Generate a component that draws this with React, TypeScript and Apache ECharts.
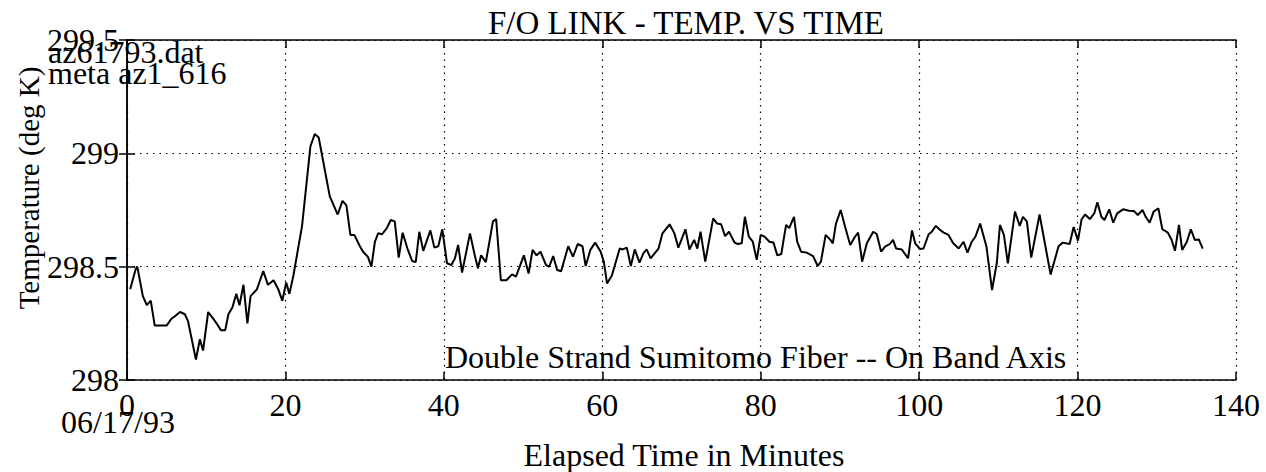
import React, { useEffect, useRef } from "react";
import * as echarts from "echarts";

const minutes = [
  0.4, 1.1, 1.3, 2.0, 2.5, 3.0, 3.5, 5.0, 5.6, 6.0, 6.7, 7.3, 7.7, 8.7, 9.2, 9.6, 10.25, 10.9, 11.3, 11.85,
  12.4, 12.8, 13.3, 13.8, 14.2, 14.7, 15.2, 15.6, 16.4, 16.7, 17.2, 17.8, 18.5, 19.1, 19.6, 20.1, 20.5, 21.0,
  22.1, 23.15, 23.7, 24.2, 25.6, 26.6, 27.2, 27.7, 28.2, 28.7, 29.4, 29.8, 30.4, 30.85, 31.3, 31.7, 32.2,
  32.8, 33.3, 33.8, 34.3, 34.8, 35.4, 36.0, 36.45, 36.9, 37.4, 38.3, 38.8, 39.3, 39.8, 40.4, 40.95, 41.4,
  41.8, 42.3, 43.3, 43.9, 44.3, 44.7, 45.3, 46.2, 46.6, 47.2, 47.9, 48.6, 49.1, 50.1, 50.7, 51.2, 51.7,
  52.2, 52.9, 53.3, 53.8, 54.3, 54.8, 55.7, 56.3, 56.9, 57.5, 57.9, 58.5, 59.1, 59.8, 60.2, 60.6, 61.2,
  62.2, 62.6, 63.1, 63.6, 64.1, 64.7, 65.2, 65.6, 66.1, 67.1, 67.6, 68.5, 69.1, 69.6, 70.5, 71.0, 71.6,
  72.0, 72.4, 73.0, 74.0, 74.5, 75.0, 75.5, 76.0, 76.7, 77.1, 77.6, 78.0, 78.5, 79.0, 79.5, 80.0, 80.5,
  81.1, 81.6, 82.1, 82.6, 83.2, 83.6, 84.2, 84.6, 85.1, 85.8, 86.6, 87.2, 87.6, 88.2, 88.8, 89.1, 89.5,
  90.1, 90.65, 91.3, 91.9, 92.3, 92.8, 93.4, 94.2, 94.65, 95.2, 95.7, 96.3, 96.7, 97.1, 97.8, 98.6, 99.1,
  99.5, 100.1, 100.55, 101.2, 101.6, 102.1, 102.65, 103.1, 103.7, 104.3, 105.0, 105.6, 106.1, 106.65,
  107.1, 107.7, 108.5, 109.2, 109.8, 110.2, 110.7, 111.2, 112.1, 112.7, 113.1, 113.6, 114.15, 115.2,
  115.65, 116.6, 117.6, 118.1, 119.0, 119.5, 120.05, 120.5, 120.95, 121.55, 122.1, 122.5, 123.0, 123.4,
  124.0, 124.5, 125.0, 125.75, 126.5, 127.1, 127.6, 128.2, 128.6, 129.1, 129.6, 130.2, 130.7, 131.4,
  131.85, 132.3, 132.8, 133.2, 133.8, 134.3, 134.8, 135.3, 135.8,
];

const temperatures = [
  298.40, 298.49, 298.50, 298.37, 298.33, 298.35, 298.24, 298.24, 298.27, 298.28, 298.30, 298.29, 298.26,
  298.09, 298.18, 298.13, 298.30, 298.27, 298.25, 298.22, 298.22, 298.29, 298.32, 298.38, 298.33, 298.42,
  298.25, 298.37, 298.40, 298.43, 298.48, 298.42, 298.44, 298.40, 298.35, 298.43, 298.38, 298.46, 298.68,
  299.03, 299.085, 299.07, 298.81, 298.73, 298.79, 298.77, 298.64, 298.64, 298.59, 298.566, 298.544,
  298.50, 298.61, 298.647, 298.643, 298.67, 298.706, 298.70, 298.54, 298.65, 298.58, 298.525, 298.52,
  298.654, 298.57, 298.66, 298.584, 298.59, 298.665, 298.515, 298.507, 298.537, 298.596, 298.474, 298.647,
  298.55, 298.493, 298.55, 298.52, 298.70, 298.71, 298.44, 298.44, 298.466, 298.456, 298.55, 298.47,
  298.574, 298.55, 298.566, 298.507, 298.50, 298.547, 298.485, 298.48, 298.59, 298.544, 298.60, 298.59,
  298.503, 298.574, 298.606, 298.566, 298.52, 298.426, 298.46, 298.58, 298.576, 298.584, 298.503, 298.576,
  298.518, 298.56, 298.576, 298.537, 298.58, 298.647, 298.687, 298.647, 298.584, 298.665, 298.576, 298.618,
  298.58, 298.654, 298.522, 298.713, 298.69, 298.687, 298.635, 298.654, 298.606, 298.60, 298.603, 298.72,
  298.632, 298.61, 298.53, 298.64, 298.632, 298.61, 298.607, 298.55, 298.556, 298.684, 298.67, 298.72,
  298.61, 298.566, 298.562, 298.547, 298.503, 298.522, 298.64, 298.618, 298.603, 298.69, 298.75, 298.676,
  298.596, 298.632, 298.65, 298.522, 298.603, 298.654, 298.644, 298.566, 298.588, 298.60, 298.618, 298.58,
  298.576, 298.537, 298.66, 298.603, 298.578, 298.58, 298.643, 298.654, 298.68, 298.662, 298.65, 298.64,
  298.603, 298.58, 298.61, 298.562, 298.61, 298.632, 298.69, 298.588, 298.397, 298.515, 298.684, 298.64,
  298.515, 298.743, 298.68, 298.72, 298.70, 298.54, 298.73, 298.645, 298.465, 298.59, 298.606, 298.60,
  298.675, 298.615, 298.708, 298.73, 298.71, 298.735, 298.784, 298.72, 298.706, 298.753, 298.694, 298.735,
  298.753, 298.747, 298.746, 298.728, 298.75, 298.72, 298.694, 298.743, 298.757, 298.665, 298.65, 298.62,
  298.57, 298.684, 298.574, 298.61, 298.665, 298.618, 298.62, 298.58,
];

const xTicks = { min: 0, max: 140, interval: 20 };
const yTicks = { min: 298, max: 299.5, interval: 0.5 };

const chartTitle = "F/O LINK - TEMP. VS TIME";
const xName = "Elapsed Time in Minutes";
const yName = "Temperature (deg K)";
const fileLines = ["az61793.dat", "meta az1_616"];
const dateLabel = "06/17/93";
const note = "Double Strand Sumitomo Fiber -- On Band Axis";

const FONT = "'Liberation Serif', 'Times New Roman', serif";

export default function App() {
  const ref = useRef<HTMLDivElement>(null);
  useEffect(() => {
    if (!ref.current) return;
    const chart = echarts.init(ref.current, undefined, { renderer: "svg" });
    const data = minutes.map((m, i) => [m, temperatures[i]]);
    const axisLine = { show: true, lineStyle: { color: "#000", width: 1.5 } };
    const tick = { show: true, inside: true, length: 8, lineStyle: { color: "#000", width: 1.5 } };
    const split = { show: true, lineStyle: { color: "#000", width: 1.2, type: [1.5, 5] as any } };
    const label = { color: "#000", fontFamily: FONT, fontSize: 32 };
    chart.setOption({
      animation: false,
      backgroundColor: "#fff",
      grid: { left: 127, right: 30, top: 40, bottom: 92, containLabel: false },
      xAxis: [
        {
          type: "value", position: "bottom", ...xTicks,
          axisLine, axisTick: tick, splitLine: split,
          axisLabel: { ...label, margin: 9 },
        },
        {
          type: "value", position: "top", ...xTicks,
          axisLine, axisTick: tick, splitLine: { show: false }, axisLabel: { show: false },
        },
      ],
      yAxis: [
        {
          type: "value", position: "left", ...yTicks,
          axisLine, axisTick: tick, splitLine: split,
          axisLabel: { ...label, margin: 8, formatter: (v: number) => String(v) },
        },
        {
          type: "value", position: "right", ...yTicks,
          axisLine, axisTick: tick, splitLine: { show: false }, axisLabel: { show: false },
        },
      ],
      graphic: [
        { type: "text", x: 686, y: 23, style: { text: chartTitle, font: `33px ${FONT}`, fill: "#000", textAlign: "center", textVerticalAlign: "middle" } },
        { type: "text", x: 684, y: 455, style: { text: xName, font: `32px ${FONT}`, fill: "#000", textAlign: "center", textVerticalAlign: "middle" } },
        { type: "text", x: 29, y: 188, rotation: Math.PI / 2, style: { text: yName, font: `29px ${FONT}`, fill: "#000", textAlign: "center", textVerticalAlign: "middle" } },
        { type: "text", x: 48, y: 52, style: { text: fileLines[0], font: `32px ${FONT}`, fill: "#000", textAlign: "left", textVerticalAlign: "middle" } },
        { type: "text", x: 48, y: 73, style: { text: fileLines[1], font: `32px ${FONT}`, fill: "#000", textAlign: "left", textVerticalAlign: "middle" } },
        { type: "text", x: 118, y: 422, style: { text: dateLabel, font: `32px ${FONT}`, fill: "#000", textAlign: "center", textVerticalAlign: "middle" } },
        { type: "text", x: 445, y: 357, style: { text: note, font: `32px ${FONT}`, fill: "#000", textAlign: "left", textVerticalAlign: "middle" } },
      ],
      series: [
        {
          type: "line", data, xAxisIndex: 0, yAxisIndex: 0, symbol: "none",
          lineStyle: { color: "#000", width: 2 }, z: 5,
        },
      ],
    });
    return () => chart.dispose();
  }, []);
  return <div ref={ref} style={{ position: "fixed", left: 0, top: 0, width: 1266, height: 472, background: "#fff" }} />;
}
